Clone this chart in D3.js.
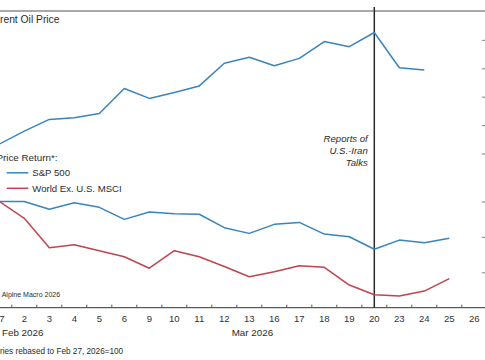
<!DOCTYPE html>
<html>
<head>
<meta charset="utf-8">
<script src="https://cdn.jsdelivr.net/npm/d3@7"></script>
<style>
  html, body { margin: 0; padding: 0; background: #fff; }
  svg { display: block; font-family: "Liberation Sans", Arial, sans-serif; }
</style>
</head>
<body>
<svg id="chart" width="485" height="360"></svg>
<script>
// ---- data ----
const dates = ["27", "2", "3", "4", "5", "6", "9", "10", "11", "12", "13", "16", "17", "18", "19", "20", "23", "24", "25", "26"];
const brentOil = [73.3, 77.9, 82.0, 82.6, 84.1, 92.9, 89.4, 91.5, 93.8, 101.8, 103.9, 100.9, 103.5, 109.4, 107.6, 112.6, 100.2, 99.4, null, null];
const sp500 = [100.0, 100.0, 99.56, 99.93, 99.67, 98.99, 99.41, 99.31, 99.28, 98.52, 98.20, 98.71, 98.82, 98.16, 98.01, 97.30, 97.82, 97.67, 97.92, null];
const worldExUS = [100.0, 99.05, 97.39, 97.56, 97.22, 96.88, 96.23, 97.22, 96.88, 96.33, 95.75, 96.03, 96.37, 96.28, 95.28, 94.73, 94.66, 94.94, 95.64, null];
const oilTicks = [70, 80, 90, 100, 110];
const equityTicks = [96, 98, 100];
const eventDate = "20";
const monthLabels = [{ label: "Feb 2026" }, { label: "Mar 2026" }];

// ---- layout ----
const svg = d3.select("#chart");
const blue = "#3a84bd";
const red = "#c0444e";
const textCol = "#2b2b2b";

const x = d3.scaleBand().domain(dates).range([-13.2, 486.8]).padding(0);
const cx = d => x(d) + x.bandwidth() / 2;
const plotRight = -13.2 + 500;
const axisY = 307.7;

const yOil = d3.scaleLinear().domain([70, 120]).range([153.5, 11.5]);
const yEq = d3.scaleLinear().domain([94, 100]).range([axisY, 201.5]);

// top frame line
svg.append("line")
  .attr("x1", 0).attr("x2", 485)
  .attr("y1", yOil(120) - 0.5).attr("y2", yOil(120) - 0.5)
  .attr("stroke", "#a9a9a9").attr("stroke-width", 1.8);

// right axes (ticks only; labels lie outside the crop)
const rOil = svg.append("g").attr("transform", `translate(${plotRight},0)`)
  .call(d3.axisRight(yOil).tickValues(oilTicks).tickSizeInner(-5).tickSizeOuter(0).tickFormat(""));
const rEq = svg.append("g").attr("transform", `translate(${plotRight},0)`)
  .call(d3.axisRight(yEq).tickValues(equityTicks).tickSizeInner(-5).tickSizeOuter(0).tickFormat(""));
[rOil, rEq].forEach(g => {
  g.select(".domain").remove();
  g.selectAll(".tick line").attr("stroke", "#9a9a9a").attr("stroke-width", 1.2);
});

// x axis
const xa = svg.append("g").attr("transform", `translate(0,${axisY})`)
  .call(d3.axisBottom(x).tickSize(0).tickPadding(7.2));
xa.select(".domain").remove();
xa.selectAll(".tick text")
  .attr("fill", "#333").style("font-size", "9.6px")
  .style("font-family", "'Liberation Sans', Arial, sans-serif");
svg.append("line")
  .attr("x1", 0).attr("x2", 485)
  .attr("y1", axisY).attr("y2", axisY)
  .attr("stroke", "#333").attr("stroke-width", 1);
svg.append("g").selectAll("line")
  .data(dates)
  .join("line")
  .attr("x1", d => x(d) + x.bandwidth()).attr("x2", d => x(d) + x.bandwidth())
  .attr("y1", axisY).attr("y2", axisY - 3)
  .attr("stroke", "#555").attr("stroke-width", 1);

// month labels
svg.append("text").attr("x", 2).attr("y", 336)
  .attr("fill", textCol).style("font-size", "9.8px").text(monthLabels[0].label);
svg.append("text").attr("x", 231.7).attr("y", 336)
  .attr("fill", textCol).style("font-size", "9.8px").text(monthLabels[1].label);

// event line
svg.append("line")
  .attr("x1", cx(eventDate)).attr("x2", cx(eventDate))
  .attr("y1", 7).attr("y2", axisY)
  .attr("stroke", "#2a2a2a").attr("stroke-width", 1.5);
const ann = svg.append("text")
  .attr("text-anchor", "end")
  .attr("fill", textCol)
  .style("font-size", "9.6px").style("font-style", "italic");
["Reports of", "U.S.-Iran", "Talks"].forEach((t, i) => {
  ann.append("tspan").attr("x", cx(eventDate) - 6.5).attr("y", 141.5 + i * 12.3).text(t);
});

// lines
const lineOil = d3.line().defined(d => d != null).x((d, i) => cx(dates[i])).y(d => yOil(d));
const lineEq = d3.line().defined(d => d != null).x((d, i) => cx(dates[i])).y(d => yEq(d));

svg.append("path").datum(brentOil).attr("d", lineOil)
  .attr("fill", "none").attr("stroke", blue).attr("stroke-width", 1.5).attr("stroke-linejoin", "round");
svg.append("path").datum(worldExUS).attr("d", lineEq)
  .attr("fill", "none").attr("stroke", red).attr("stroke-width", 1.5).attr("stroke-linejoin", "round");
svg.append("path").datum(sp500).attr("d", lineEq)
  .attr("fill", "none").attr("stroke", blue).attr("stroke-width", 1.5).attr("stroke-linejoin", "round");

// panel titles / legend
svg.append("text").attr("x", -6.9).attr("y", 23)
  .attr("fill", textCol).style("font-size", "10.3px").text("Brent Oil Price");
svg.append("text").attr("x", -3.5).attr("y", 160.5)
  .attr("fill", textCol).style("font-size", "9.8px").text("Price Return*:");

const legend = [{ name: "S&P 500", color: blue }, { name: "World Ex. U.S. MSCI", color: red }];
legend.forEach((l, i) => {
  const ly = 172.8 + i * 15.5;
  svg.append("line").attr("x1", 6.7).attr("x2", 28.3).attr("y1", ly).attr("y2", ly)
    .attr("stroke", l.color).attr("stroke-width", 1.5);
  svg.append("text").attr("x", 32.3).attr("y", ly + 3.6)
    .attr("fill", textCol).style("font-size", "9.6px").text(l.name);
});

// source
svg.append("text").attr("x", 1.7).attr("y", 297)
  .attr("fill", textCol).style("font-size", "7px").text("Alpine Macro 2026");
// footnote
svg.append("text").attr("x", -13.2).attr("y", 354)
  .attr("fill", textCol).style("font-size", "8.2px").text("*Series rebased to Feb 27, 2026=100");
</script>
</body>
</html>
